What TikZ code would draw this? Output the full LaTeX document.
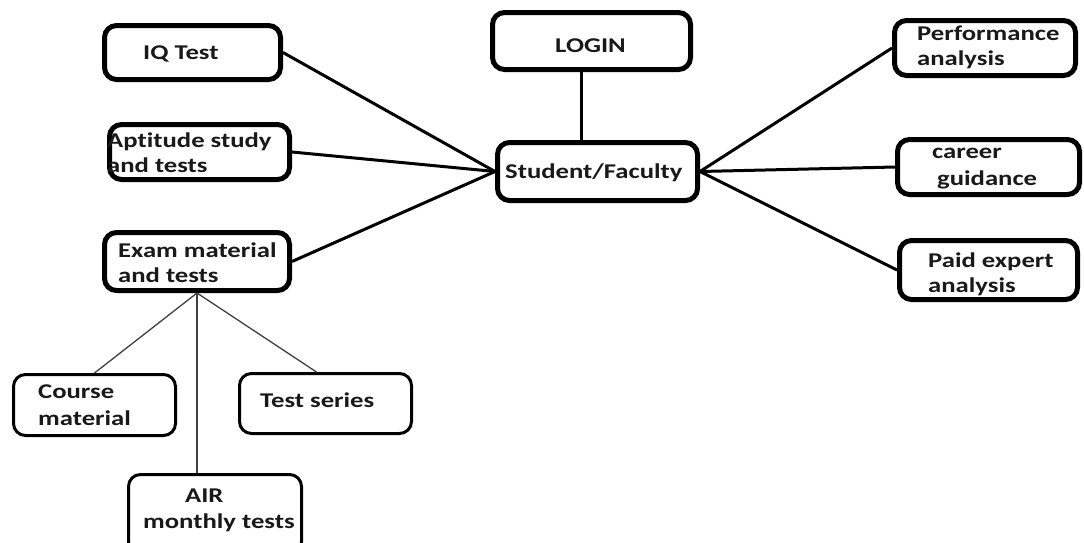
\documentclass[tikz,border=0pt]{standalone}
\usepackage{fontspec}
\setmainfont[Ligatures={NoCommon}]{Carlito}
\usepackage{graphicx}
\newcommand\sx[1]{\scalebox{1.27}[1]{#1}}
\begin{document}
\begin{tikzpicture}[x=1pt,y=-1pt,
  bigbox/.style={draw=black, line width=5pt, rounded corners=12pt, fill=white, inner sep=0pt},
  smallbox/.style={draw=black, line width=3pt, rounded corners=12pt, fill=white, inner sep=0pt},
  lbl/.style={anchor=base west, inner sep=0pt, text=black!90, font=\bfseries\fontsize{21}{24}\selectfont},
  main/.style={line width=3pt},
  thinline/.style={line width=1.3pt, draw=black!75}]
\useasboundingbox (0,0) rectangle (1084,542);
\clip (0,0) rectangle (1084,542);
\fill[white] (0,0) rectangle (1084,542);

% boxes
\node[bigbox, minimum width=176pt, minimum height=54pt] (iq) at (192.5,52.5) {};
\node[bigbox, minimum width=180pt, minimum height=55pt] (apt) at (199.5,152) {};
\node[bigbox, minimum width=185pt, minimum height=58pt] (exam) at (197,261.5) {};
\node[bigbox, minimum width=198pt, minimum height=57pt] (login) at (591.5,41) {};
\node[bigbox, minimum width=200pt, minimum height=58pt] (sf) at (597.5,171.5) {};
\node[bigbox, minimum width=181pt, minimum height=55pt] (perf) at (985,48) {};
\node[bigbox, minimum width=182pt, minimum height=55pt] (car) at (988.5,167) {};
\node[bigbox, minimum width=178pt, minimum height=59pt] (paid) at (988.5,270) {};
\node[smallbox, minimum width=162pt, minimum height=61pt] (course) at (94.5,405) {};
\node[smallbox, minimum width=172pt, minimum height=60pt] (ts) at (325.5,403.5) {};
\node[smallbox, minimum width=173pt, minimum height=79pt] (air) at (215,514) {};

% connectors
\draw[main] ([xshift=-10pt]login.south) -- ([xshift=-10pt]login.south |- sf.north);
\draw[main] (iq.east) -- (sf.west);
\draw[main] (apt.east) -- (sf.west);
\draw[main] (exam.east) -- (sf.west);
\draw[main] (sf.east) -- (perf.west);
\draw[main] (sf.east) -- (car.west);
\draw[main] (sf.east) -- (paid.west);
\draw[thinline] (exam.south) -- (course.north);
\draw[thinline] (exam.south) -- ([xshift=-9pt]ts.north);
\draw[thinline] (exam.south) -- (exam.south |- air.north);

% texts
\node[lbl] (tiq) at (143,59) {\sx{IQ Test}};
\node[lbl] (tapt1) at (107,147) {\sx{Aptitude study}};
\node[lbl] (tapt2) at (107,172) {\sx{and tests}};
\node[lbl] (tex1) at (118,257) {\sx{Exam material}};
\node[lbl] (tex2) at (118,282) {\sx{and tests}};
\node[lbl] (tlog) at (555,52) {\sx{LOGIN}};
\node[lbl] (tsf) at (505,178) {\sx{Student/Faculty}};
\node[lbl] (tpf1) at (917,40) {\sx{Performance}};
\node[lbl] (tpf2) at (917,65) {\sx{analysis}};
\node[lbl] (tcg1) at (932,158) {\sx{career}};
\node[lbl] (tcg2) at (937,185) {\sx{guidance}};
\node[lbl] (tpd1) at (928,267) {\sx{Paid expert}};
\node[lbl] (tpd2) at (928,292) {\sx{analysis}};
\node[lbl] (tcm1) at (38,398) {\sx{Course}};
\node[lbl] (tcm2) at (38,425) {\sx{material}};
\node[lbl] (tts) at (260,407) {\sx{Test series}};
\node[lbl] (tair1) at (185,502) {\sx{AIR}};
\node[lbl] (tair2) at (143,528) {\sx{monthly tests}};
\end{tikzpicture}
\end{document}
